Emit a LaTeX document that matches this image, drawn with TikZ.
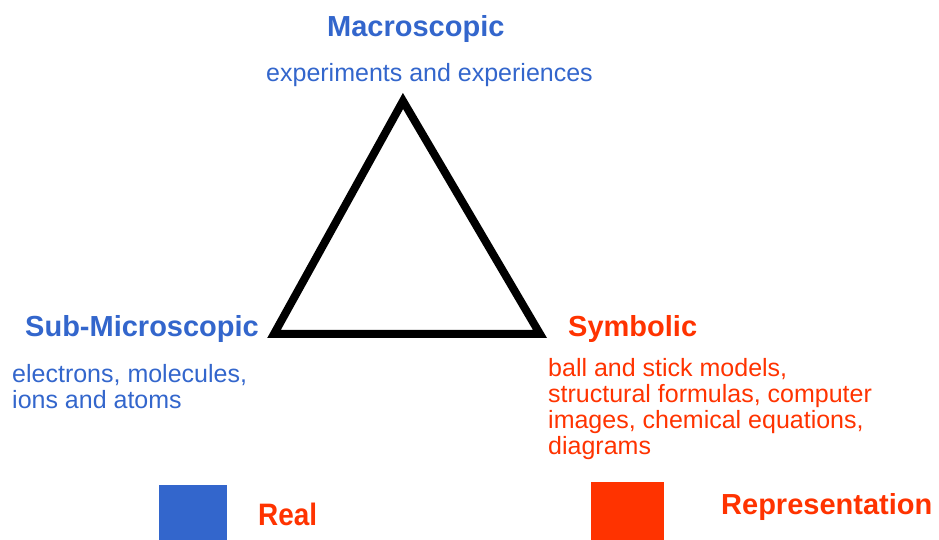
\documentclass[tikz,border=0pt]{standalone}
\usepackage{fontspec}
\setmainfont{Liberation Sans}
\newfontfamily\narrowsans[FakeStretch=0.9]{Liberation Sans}
\usepackage{xcolor}
\usepackage{tikz}
\usetikzlibrary{positioning}
\definecolor{realblue}{HTML}{3366CC}
\definecolor{repred}{HTML}{FF3300}
\tikzset{
  head/.style={font=\fontsize{29}{34}\selectfont\bfseries, anchor=base west, inner sep=0pt},
  desc/.style={font=\fontsize{25}{26}\selectfont, anchor=base west, align=left, inner sep=0pt},
  key/.style={fill=#1, draw=none, anchor=south west, inner sep=0pt},
  keytxt/.style={font=\bfseries, text=repred, anchor=base west, inner sep=0pt},
}

\begin{document}
\begin{tikzpicture}[x=1pt, y=1pt]
  \useasboundingbox (0,0) rectangle (939,540);
  % corners of the triangle
  \coordinate (vmacro) at (403,439);
  \coordinate (vsub) at (274,206);
  \coordinate (vsym) at (540,206);
  \draw[line width=8pt, line join=miter] (vmacro) -- (vsub) -- (vsym) -- cycle;
  % levels (base of a multi-line node is its last line)
  \node[head, text=realblue] (macro) at (327,503) {Macroscopic};
  \node[desc, text=realblue] (macrodesc) at (266,458) {experiments and experiences};
  \node[head, text=realblue] (submicro) at (25,203) {Sub-Microscopic};
  \node[desc, text=realblue] (submicrodesc) at (12,131) {electrons, molecules,\\ions and atoms};
  \node[head, text=repred] (symbolic) at (568,203) {Symbolic};
  \node[desc, text=repred] (symbolicdesc) at (548,85) {ball and stick models,\\structural formulas, computer\\images, chemical equations,\\diagrams};
  % key
  \node[key=realblue, minimum width=68pt, minimum height=55pt] (realkey) at (159,0) {};
  \node[keytxt, font=\fontsize{31}{36}\selectfont\narrowsans\bfseries] (realtxt) at (258,14) {Real};
  \node[key=repred, minimum width=73pt, minimum height=58pt] (repkey) at (591,0) {};
  \node[keytxt, font=\fontsize{29}{34}\selectfont\bfseries] (reptxt) at (721,25) {Representation};
\end{tikzpicture}
\end{document}
